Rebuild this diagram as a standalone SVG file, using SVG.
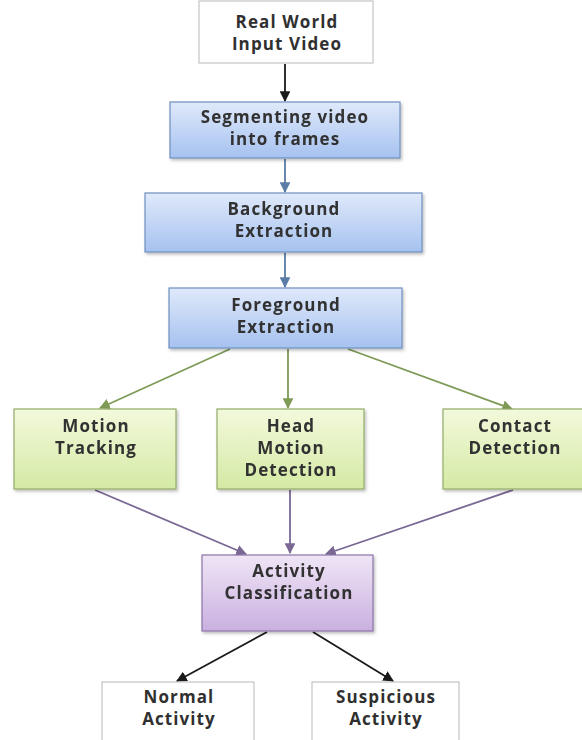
<svg xmlns="http://www.w3.org/2000/svg" width="582" height="740" viewBox="0 0 582 740">
<style>
text{font-family:"Open Sans","Liberation Sans",sans-serif;font-weight:700;font-size:17px;letter-spacing:1.1px;fill:#303030;text-anchor:middle}
.w{fill:#fff;stroke:#b8b8b8;stroke-width:1}
.b{fill:url(#gb);stroke:#6f8fbf;stroke-width:1.2}
.g{fill:url(#gg);stroke:#93ab68;stroke-width:1.2}
.p{fill:url(#gp);stroke:#8a74a6;stroke-width:1.2}
.c{fill:none;stroke-width:1.8}
</style>
<defs>
<linearGradient id="gb" x1="0" y1="0" x2="0" y2="1"><stop offset="0" stop-color="#dfe9fa"/><stop offset="1" stop-color="#a6c2f0"/></linearGradient>
<linearGradient id="gg" x1="0" y1="0" x2="0" y2="1"><stop offset="0" stop-color="#f3f9dc"/><stop offset="1" stop-color="#d4eaa4"/></linearGradient>
<linearGradient id="gp" x1="0" y1="0" x2="0" y2="1"><stop offset="0" stop-color="#efe5f6"/><stop offset="1" stop-color="#c9b0e0"/></linearGradient>
<filter id="sh" x="-5%" y="-5%" width="112%" height="120%"><feDropShadow dx="1.5" dy="2" stdDeviation="1.5" flood-color="#000" flood-opacity="0.25"/></filter>
<marker id="mk" viewBox="0 0 10 10" refX="9" refY="5" markerWidth="6" markerHeight="6" orient="auto" markerUnits="strokeWidth"><path d="M0,0L10,5L0,10z" fill="#1a1a1a"/></marker>
<marker id="mb" viewBox="0 0 10 10" refX="9" refY="5" markerWidth="6" markerHeight="6" orient="auto" markerUnits="strokeWidth"><path d="M0,0L10,5L0,10z" fill="#5a7ca6"/></marker>
<marker id="mg" viewBox="0 0 10 10" refX="9" refY="5" markerWidth="6" markerHeight="6" orient="auto" markerUnits="strokeWidth"><path d="M0,0L10,5L0,10z" fill="#7e9a56"/></marker>
<marker id="mp" viewBox="0 0 10 10" refX="9" refY="5" markerWidth="6" markerHeight="6" orient="auto" markerUnits="strokeWidth"><path d="M0,0L10,5L0,10z" fill="#7a6894"/></marker>
</defs>
<rect width="582" height="740" fill="#fff"/>
<g id="connectors">
<line class="c" x1="285" y1="64" x2="285" y2="101" stroke="#1a1a1a" marker-end="url(#mk)"/>
<line class="c" x1="285" y1="159" x2="285" y2="192" stroke="#5a7ca6" marker-end="url(#mb)"/>
<line class="c" x1="285" y1="253" x2="285" y2="287" stroke="#5a7ca6" marker-end="url(#mb)"/>
<line class="c" x1="230" y1="349" x2="100" y2="408" stroke="#7e9a56" marker-end="url(#mg)"/>
<line class="c" x1="288" y1="349" x2="288" y2="408" stroke="#7e9a56" marker-end="url(#mg)"/>
<line class="c" x1="348" y1="349" x2="512" y2="409" stroke="#7e9a56" marker-end="url(#mg)"/>
<line class="c" x1="95" y1="490" x2="246" y2="554" stroke="#7a6894" marker-end="url(#mp)"/>
<line class="c" x1="290" y1="490" x2="290" y2="553" stroke="#7a6894" marker-end="url(#mp)"/>
<line class="c" x1="513" y1="490" x2="326" y2="554" stroke="#7a6894" marker-end="url(#mp)"/>
<line class="c" x1="267" y1="632" x2="177" y2="681" stroke="#1a1a1a" marker-end="url(#mk)"/>
<line class="c" x1="313" y1="632" x2="393" y2="681" stroke="#1a1a1a" marker-end="url(#mk)"/>
</g>
<g id="input"><rect class="w" x="199" y="1" width="174" height="62"/><text x="287" y="28">Real World</text><text x="287" y="50">Input Video</text></g>
<g id="segment" filter="url(#sh)"><rect class="b" x="170" y="102" width="230" height="56"/><text x="285" y="123">Segmenting video</text><text x="285" y="145">into frames</text></g>
<g id="background" filter="url(#sh)"><rect class="b" x="145" y="193" width="277" height="59"/><text x="284" y="215">Background</text><text x="284" y="237">Extraction</text></g>
<g id="foreground" filter="url(#sh)"><rect class="b" x="169" y="288" width="233" height="60"/><text x="286" y="311">Foreground</text><text x="286" y="333">Extraction</text></g>
<g id="motion" filter="url(#sh)"><rect class="g" x="14" y="409" width="162" height="80"/><text x="96" y="432">Motion</text><text x="96" y="454">Tracking</text></g>
<g id="head" filter="url(#sh)"><rect class="g" x="217" y="409" width="147" height="80"/><text x="291" y="432">Head</text><text x="291" y="454">Motion</text><text x="291" y="476">Detection</text></g>
<g id="contact" filter="url(#sh)"><rect class="g" x="443" y="409" width="142" height="80"/><text x="515" y="432">Contact</text><text x="515" y="454">Detection</text></g>
<g id="activity" filter="url(#sh)"><rect class="p" x="202" y="555" width="171" height="76"/><text x="289" y="577">Activity</text><text x="289" y="599">Classification</text></g>
<g id="normal"><rect class="w" x="102" y="682" width="152" height="70"/><text x="179" y="703">Normal</text><text x="179" y="725">Activity</text></g>
<g id="suspicious"><rect class="w" x="312" y="682" width="147" height="70"/><text x="386" y="703">Suspicious</text><text x="386" y="725">Activity</text></g>
</svg>
